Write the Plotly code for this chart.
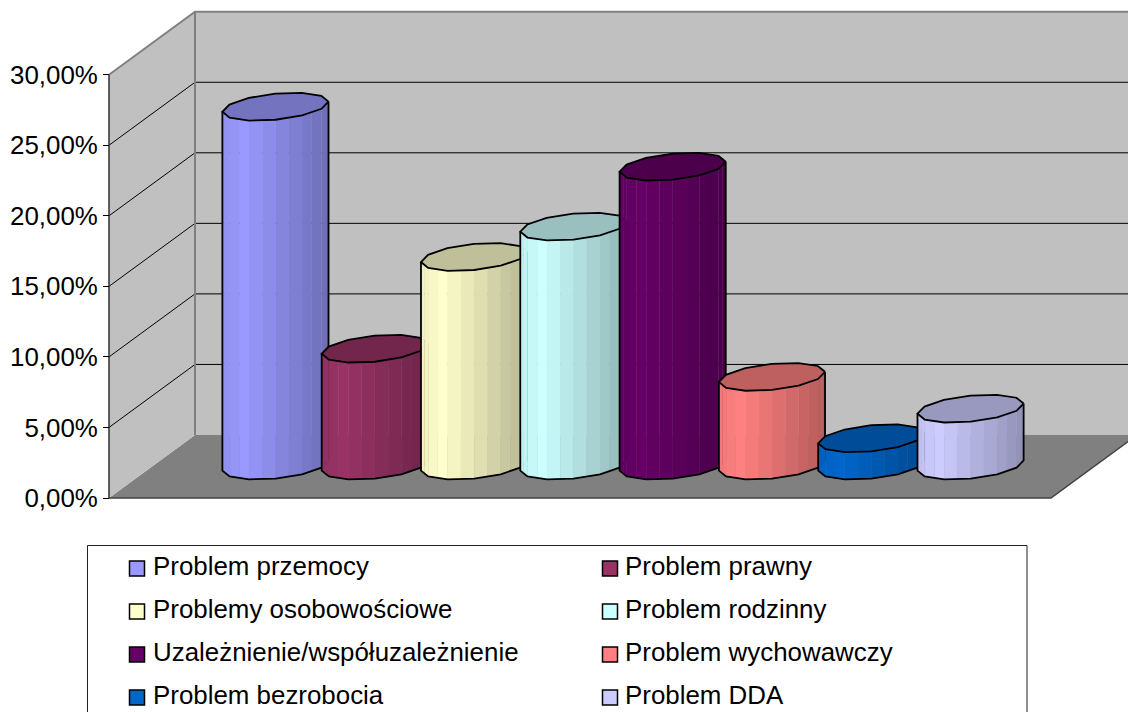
import math
import plotly.graph_objects as go

categories = ["Problem przemocy", "Problem prawny", "Problemy osobowościowe", "Problem rodzinny",
              "Uzależnienie/współuzależnienie", "Problem wychowawczy", "Problem bezrobocia", "Problem DDA"]
values = [25.5, 8.35, 14.85, 17.0, 21.25, 6.35, 2.0, 4.1]
colors = ["#9999FF", "#993366", "#FFFFCC", "#CCFFFF", "#660066", "#FF8080", "#0066CC", "#CCCCFF"]
y_ticks = [0, 5, 10, 15, 20, 25, 30]
y_labels = ["0,00%", "5,00%", "10,00%", "15,00%", "20,00%", "25,00%", "30,00%"]

W, H = 1128, 712
PX_SLOT = 99.3
PX_PCT = 14.11
Y0_PX, CX_PX = 498, 580
XL, XR = 3.5 - 471 / PX_SLOT, 3.5 + 471 / PX_SLOT
DX, DY = 86 / PX_SLOT, 63 / PX_PCT
YMAX = 30


def proj(x, v, d):
    return x + d * DX, v + d * DY


def poly(pts, fill=None, line=None, width=0, close=True):
    xs = [p[0] for p in pts]
    ys = [p[1] for p in pts]
    if close:
        xs.append(xs[0])
        ys.append(ys[0])
    return go.Scatter(x=xs, y=ys, mode="lines", fill="toself" if fill else "none", fillcolor=fill,
                      line=dict(color=line or "rgba(0,0,0,0)", width=width),
                      hoverinfo="skip", showlegend=False)


def shade(c, f):
    r, g, b = (int(c[i:i + 2], 16) for i in (1, 3, 5))
    return f"rgb({r * f:.0f},{g * f:.0f},{b * f:.0f})"


fig = go.Figure()
# walls and floor
fig.add_trace(poly([proj(XL, 0, 0), proj(XL, 0, 1), proj(XR, 0, 1), proj(XR, 0, 0)], fill="#808080"))
fig.add_trace(poly([proj(XL, 0, 1), proj(XL, YMAX, 1), proj(XR, YMAX, 1), proj(XR, 0, 1)], fill="#C0C0C0"))
fig.add_trace(poly([proj(XL, 0, 0), proj(XL, YMAX, 0), proj(XL, YMAX, 1), proj(XL, 0, 1)], fill="#C0C0C0"))
# gridlines
for t in y_ticks[1:-1]:
    fig.add_trace(poly([proj(XL, t, 0), proj(XL, t, 1), proj(XR, t, 1)], line="#000000", width=1, close=False))
fig.add_trace(poly([proj(XL, YMAX, 0), proj(XL, YMAX, 1), proj(XR, YMAX, 1)], line="#808080", width=2, close=False))
fig.add_trace(poly([proj(XL, 0, 1), proj(XL, YMAX, 1)], line="#808080", width=2, close=False))
fig.add_trace(poly([proj(XL, 0, 0), proj(XL, YMAX, 0)], line="#303030", width=1.5, close=False))
fig.add_trace(poly([proj(XL, 0, 0), proj(XR, 0, 0), proj(XR, 0, 1)], line="#404040", width=1.5, close=False))

# cylinders: 12-sided rim, 12 shaded strips on the visible half
A = 49.5 / PX_SLOT
R = 14 / 63
N = 12
TH_R = math.asin(0.363)          # right silhouette angle
BASE_LIFT = 0.07                 # base sits very slightly above the mid-floor line


def rim(i, v, k):
    """k counts half-sides clockwise from the right silhouette; odd k lie on a chord."""
    if k % 2:
        p, q = rim(i, v, k - 1), rim(i, v, k + 1)
        return (p[0] + q[0]) / 2, (p[1] + q[1]) / 2
    th = TH_R - k * math.pi / N
    cx, cy = proj(i, v, 0.5)
    return cx + A * math.cos(th) + R * DX * math.sin(th), cy + R * DY * math.sin(th)


for i, (val, col) in enumerate(zip(values, colors)):
    xmin, xmax = rim(i, 0, N)[0], rim(i, 0, 0)[0]
    for k in range(N):
        xm = (rim(i, 0, k)[0] + rim(i, 0, k + 1)[0]) / 2
        u = (xm - xmin) / (xmax - xmin)
        f = 0.94 + u * 0.06 / 0.2 if u < 0.2 else 1.0 - (u - 0.2) * 0.36
        c = shade(col, f)
        fig.add_trace(poly([rim(i, BASE_LIFT, k), rim(i, BASE_LIFT, k + 1), rim(i, val, k + 1), rim(i, val, k)],
                           fill=c, line=c, width=0.3))
    ring = [rim(i, val, 2 * k) for k in range(N)]
    fig.add_trace(poly(ring, fill=shade(col, 0.75)))
    outline = [rim(i, val, 0)] + [rim(i, BASE_LIFT, 2 * k) for k in range(N // 2 + 1)] + [rim(i, val, N)]
    fig.add_trace(poly(outline, line="#000000", width=1.8, close=False))
    fig.add_trace(poly(ring, line="#000000", width=1.8))

# legend
shapes = [dict(type="rect", xref="paper", yref="paper", x0=87.5 / W, x1=1027 / W,
               y0=1 - 720 / H, y1=1 - 545.5 / H, line=dict(color="#202020", width=1), fillcolor="#FFFFFF",
               layer="below")]
annotations = []
rows_y = [566, 609, 652, 695]
cols_x = [129, 602]
text_dx = [22, 21]
for k, (name, col) in enumerate(zip(categories, colors)):
    ly = rows_y[k // 2]
    lx = cols_x[k % 2]
    shapes.append(dict(type="rect", xref="paper", yref="paper", x0=(lx + 0.5) / W, x1=(lx + 15.5) / W,
                       y0=1 - (ly + 10) / H, y1=1 - (ly - 5) / H, fillcolor=col,
                       line=dict(color="#000000", width=1.5)))
    annotations.append(dict(text=name, xref="paper", yref="paper", x=(lx + text_dx[k % 2]) / W, y=1 - ly / H,
                            xanchor="left", yanchor="middle", showarrow=False,
                            font=dict(family="Liberation Sans", size=25.9, color="#000000")))

fig.update_layout(
    width=W, height=H, margin=dict(l=0, r=0, t=0, b=0), paper_bgcolor="#FFFFFF", plot_bgcolor="#FFFFFF",
    showlegend=False, shapes=shapes, annotations=annotations,
    xaxis=dict(visible=False, range=[3.5 - CX_PX / PX_SLOT, 3.5 + (W - CX_PX) / PX_SLOT], domain=[0, 1]),
    yaxis=dict(range=[-(H - Y0_PX) / PX_PCT, Y0_PX / PX_PCT], anchor="free", position=109 / W,
               tickmode="array", tickvals=y_ticks, ticktext=y_labels, ticks="outside", ticklen=6, tickwidth=1,
               tickcolor="#000000", showgrid=False, zeroline=False, showline=False,
               tickfont=dict(family="Liberation Sans", size=25.9, color="#000000")),
)
fig.write_html("out.html", config=dict(displayModeBar=False),
               post_script="document.body.style.margin='0';document.body.style.overflow='hidden';")
